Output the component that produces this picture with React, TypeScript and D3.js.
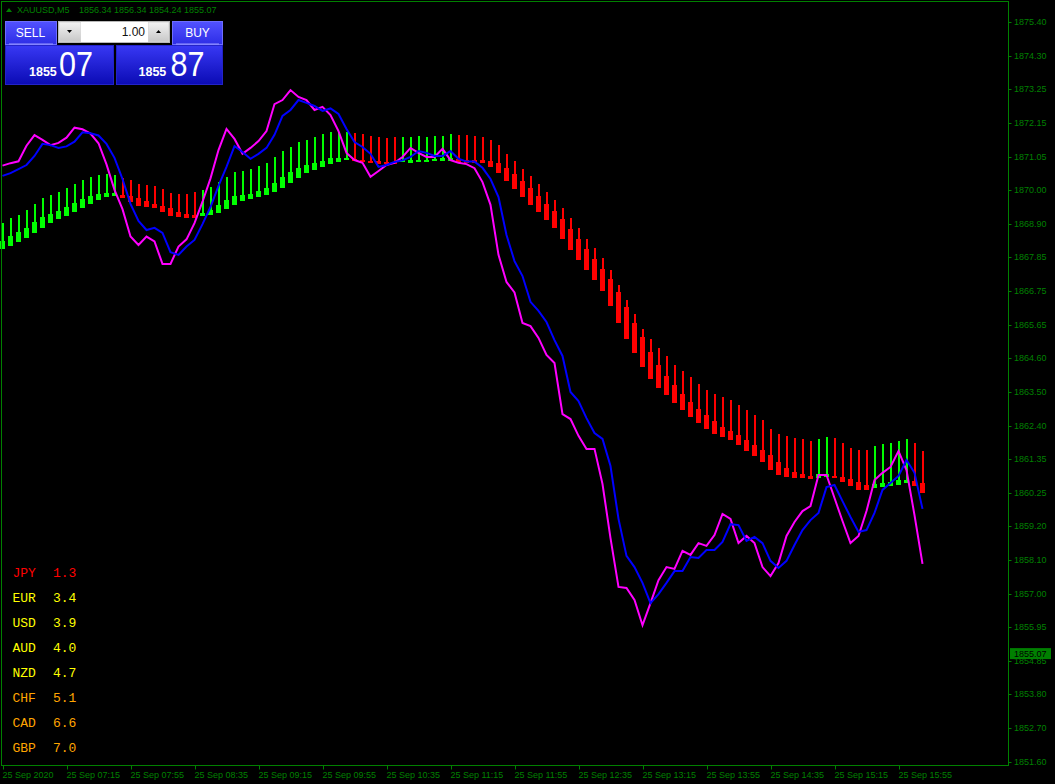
import React from 'react';
import * as d3 from 'd3';

const WIDTH = 1055;
const HEIGHT = 784;

// header / trade panel values
const SYMBOL = 'XAUUSD,M5';
const OHLC = [1856.34, 1856.34, 1854.24, 1855.07];
const LOT = '1.00';
const BID = 1855.07;
const ASK = 1855.87;

// smoothed heiken-ashi ribbon, one entry per M5 bar (06:35 .. 16:10)
// U = green (up), D = red (down)
const BAR_DIR =
  'UUUUU' + 'UUUUU' + 'UUUUU' +
  'DDDDD' + 'DDDDD' +
  'UUUUU' + 'UUUUU' + 'UUUUU' + 'UUUU' +
  'DDDDD' + 'D' +
  'UUUUU' + 'UU' +
  'DDDDD' + 'DDDDD' + 'DDDDD' + 'DDDDD' + 'DDDDD' + 'DDDDD' + 'DDDDD' + 'DDDDD' + 'DDDDD' +
  'UU' +
  'DDDDD' +
  'UUUUU' +
  'DD';

const wickHigh = [
  1868.95, 1869.11, 1869.19, 1869.35, 1869.55, 1869.74, 1869.84, 1869.93, 1870.06, 1870.19,
  1870.32, 1870.41, 1870.48, 1870.51, 1870.48, 1870.39, 1870.32, 1870.19, 1870.16, 1870.13,
  1870.03, 1869.90, 1869.87, 1869.87, 1869.93, 1870.00, 1870.09, 1870.25, 1870.42, 1870.58,
  1870.62, 1870.67, 1870.77, 1870.87, 1871.06, 1871.25, 1871.38, 1871.54, 1871.61, 1871.70,
  1871.80, 1871.86, 1871.86, 1871.86, 1871.83, 1871.80, 1871.73, 1871.70, 1871.67, 1871.70,
  1871.70, 1871.70, 1871.73, 1871.70, 1871.73, 1871.73, 1871.80, 1871.77, 1871.77, 1871.73,
  1871.70, 1871.61, 1871.45, 1871.16, 1870.93, 1870.67, 1870.45, 1870.19, 1869.93, 1869.68,
  1869.42, 1869.10, 1868.78, 1868.42, 1868.13, 1867.81, 1867.42, 1866.94, 1866.46, 1866.01,
  1865.53, 1865.20, 1864.92, 1864.66, 1864.37, 1864.18, 1863.98, 1863.76, 1863.57, 1863.44,
  1863.34, 1863.24, 1863.08, 1862.92, 1862.76, 1862.60, 1862.31, 1862.15, 1862.09, 1862.02,
  1861.99, 1861.92, 1861.99, 1862.05, 1862.02, 1861.86, 1861.70, 1861.64, 1861.64, 1861.76,
  1861.83, 1861.86, 1861.92, 1861.99, 1861.86, 1861.60,
];

const bodyHigh = [
  1868.36, 1868.53, 1868.64, 1868.79, 1868.96, 1869.13, 1869.23, 1869.32, 1869.45, 1869.57,
  1869.71, 1869.80, 1869.87, 1869.90, 1869.89, 1869.83, 1869.80, 1869.75, 1869.65, 1869.55,
  1869.48, 1869.43, 1869.29, 1869.23, 1869.19, 1869.27, 1869.35, 1869.52, 1869.68, 1869.80,
  1869.85, 1869.88, 1869.98, 1870.07, 1870.22, 1870.42, 1870.58, 1870.71, 1870.79, 1870.87,
  1870.93, 1871.03, 1871.03, 1871.03, 1871.00, 1870.96, 1870.93, 1870.93, 1870.91, 1870.91,
  1870.96, 1870.96, 1870.96, 1870.96, 1871.00, 1871.01, 1871.03, 1871.00, 1870.96, 1870.96,
  1870.96, 1870.93, 1870.88, 1870.71, 1870.51, 1870.29, 1870.06, 1869.80, 1869.55, 1869.32,
  1869.06, 1868.74, 1868.42, 1868.10, 1867.78, 1867.46, 1867.13, 1866.72, 1866.23, 1865.72,
  1865.27, 1864.79, 1864.37, 1864.01, 1863.72, 1863.44, 1863.18, 1862.95, 1862.76, 1862.57,
  1862.38, 1862.25, 1862.12, 1861.96, 1861.80, 1861.64, 1861.47, 1861.25, 1861.06, 1860.93,
  1860.86, 1860.80, 1860.86, 1860.86, 1860.80, 1860.77, 1860.70, 1860.61, 1860.51, 1860.54,
  1860.57, 1860.61, 1860.67, 1860.67, 1860.64, 1860.57,
];

const bodyLow = [
  1868.09, 1868.21, 1868.34, 1868.46, 1868.62, 1868.79, 1868.95, 1869.07, 1869.17, 1869.30,
  1869.43, 1869.56, 1869.69, 1869.78, 1869.80, 1869.75, 1869.62, 1869.49, 1869.45, 1869.42,
  1869.30, 1869.16, 1869.13, 1869.11, 1869.11, 1869.17, 1869.20, 1869.27, 1869.38, 1869.53,
  1869.65, 1869.72, 1869.78, 1869.85, 1869.94, 1870.07, 1870.23, 1870.39, 1870.55, 1870.65,
  1870.75, 1870.84, 1870.91, 1870.96, 1870.92, 1870.89, 1870.86, 1870.83, 1870.82, 1870.83,
  1870.90, 1870.88, 1870.90, 1870.90, 1870.92, 1870.92, 1870.94, 1870.90, 1870.88, 1870.87,
  1870.86, 1870.75, 1870.54, 1870.29, 1870.03, 1869.77, 1869.52, 1869.29, 1869.03, 1868.78,
  1868.42, 1868.07, 1867.75, 1867.42, 1867.10, 1866.75, 1866.27, 1865.72, 1865.20, 1864.75,
  1864.30, 1863.92, 1863.63, 1863.40, 1863.15, 1862.92, 1862.70, 1862.50, 1862.31, 1862.15,
  1862.05, 1861.96, 1861.80, 1861.60, 1861.44, 1861.25, 1860.99, 1860.83, 1860.77, 1860.73,
  1860.73, 1860.70, 1860.73, 1860.77, 1860.73, 1860.61, 1860.48, 1860.35, 1860.35, 1860.41,
  1860.45, 1860.48, 1860.51, 1860.57, 1860.48, 1860.25,
];

// fast MA (magenta)
const fastMA = [
  1870.78, 1870.86, 1870.92, 1871.42, 1871.76, 1871.61, 1871.44, 1871.51, 1871.68, 1872.00,
  1871.95, 1871.81, 1871.50, 1870.82, 1870.00, 1869.38, 1868.50, 1868.23, 1868.50, 1868.34,
  1867.62, 1867.62, 1868.18, 1868.41, 1868.93, 1869.62, 1870.37, 1871.28, 1871.96, 1871.64,
  1871.16, 1871.35, 1871.57, 1871.89, 1872.76, 1872.89, 1873.21, 1872.99, 1872.89, 1872.57,
  1872.67, 1872.41, 1871.89, 1871.19, 1870.96, 1870.87, 1870.42, 1870.61, 1870.80, 1870.87,
  1871.06, 1871.35, 1871.19, 1871.06, 1871.06, 1871.32, 1870.96, 1870.87, 1870.83, 1870.70,
  1870.25, 1869.52, 1867.91, 1867.04, 1866.70, 1865.72, 1865.62, 1865.24, 1864.69, 1864.43,
  1862.79, 1862.63, 1862.09, 1861.67, 1861.67, 1860.54, 1858.80, 1857.23, 1857.20, 1856.81,
  1856.00, 1856.71, 1857.45, 1857.87, 1857.81, 1858.39, 1858.26, 1858.64, 1858.55, 1858.90,
  1859.58, 1859.42, 1858.64, 1858.87, 1858.64, 1857.87, 1857.58, 1858.00, 1858.87, 1859.32,
  1859.67, 1859.83, 1860.83, 1860.83, 1860.09, 1859.35, 1858.64, 1858.87, 1859.67, 1860.67,
  1860.90, 1861.09, 1861.60, 1860.99, 1859.54, 1857.97,
];

// slow MA (blue)
const slowMA = [
  1870.45, 1870.54, 1870.67, 1870.80, 1871.09, 1871.48, 1871.44, 1871.35, 1871.40, 1871.55,
  1871.85, 1871.82, 1871.75, 1871.48, 1871.03, 1870.35, 1869.55, 1869.00, 1868.71, 1868.78,
  1868.62, 1868.00, 1867.91, 1868.18, 1868.39, 1868.90, 1869.45, 1870.13, 1870.74, 1871.41,
  1871.22, 1871.00, 1871.16, 1871.35, 1871.77, 1872.38, 1872.57, 1872.89, 1872.80, 1872.70,
  1872.54, 1872.62, 1872.44, 1871.96, 1871.54, 1871.38, 1871.16, 1870.74, 1870.80, 1870.90,
  1870.95, 1871.06, 1871.25, 1871.19, 1871.09, 1871.09, 1871.25, 1871.00, 1870.91, 1870.91,
  1870.71, 1870.35, 1869.77, 1868.55, 1867.71, 1867.23, 1866.40, 1866.11, 1865.75, 1865.17,
  1864.66, 1863.50, 1863.21, 1862.66, 1862.18, 1861.99, 1861.12, 1859.42, 1858.23, 1857.87,
  1857.36, 1856.71, 1857.00, 1857.36, 1857.74, 1857.74, 1858.19, 1858.16, 1858.42, 1858.42,
  1858.68, 1859.25, 1859.22, 1858.71, 1858.84, 1858.64, 1858.07, 1857.84, 1858.07, 1858.58,
  1859.06, 1859.38, 1859.61, 1860.44, 1860.51, 1859.99, 1859.48, 1859.00, 1859.06, 1859.61,
  1860.35, 1860.57, 1860.80, 1861.31, 1860.90, 1859.74,
];

const priceTicks = [
  1875.40, 1874.30, 1873.25, 1872.15, 1871.05, 1870.00, 1868.90, 1867.85, 1866.75, 1865.65,
  1864.60, 1863.50, 1862.40, 1861.35, 1860.25, 1859.20, 1858.10, 1857.00, 1855.95, 1854.85,
  1853.80, 1852.70, 1851.60,
];

// one label every 8 bars
const timeLabels = [
  '25 Sep 2020', '25 Sep 07:15', '25 Sep 07:55', '25 Sep 08:35', '25 Sep 09:15',
  '25 Sep 09:55', '25 Sep 10:35', '25 Sep 11:15', '25 Sep 11:55', '25 Sep 12:35',
  '25 Sep 13:15', '25 Sep 13:55', '25 Sep 14:35', '25 Sep 15:15', '25 Sep 15:55',
];
const BARS_PER_LABEL = 8;

// currency strength meter
const currencies = ['JPY', 'EUR', 'USD', 'AUD', 'NZD', 'CHF', 'CAD', 'GBP'];
const strength = [1.3, 3.4, 3.9, 4.0, 4.7, 5.1, 6.6, 7.0];

const AXIS = '#008000';
const UP = '#00ff00';
const DOWN = '#ff0000';
const FONT = '"Liberation Sans", Arial, sans-serif';

const strengthColor = (v: number) => (v < 2 ? '#ff0000' : v < 5 ? '#ffff00' : '#ffa500');

const splitPrice = (p: number) => {
  const s = p.toFixed(2);
  return [s.slice(0, 4), s.slice(5)];
};

const TradePanel: React.FC = () => {
  const [bidSmall, bidBig] = splitPrice(BID);
  const [askSmall, askBig] = splitPrice(ASK);
  return (
    <g fontFamily={FONT}>
      <defs>
        <linearGradient id="btnGrad" x1="0" y1="0" x2="0" y2="1">
          <stop offset="0" stopColor="#5252ff" />
          <stop offset="1" stopColor="#2d2de6" />
        </linearGradient>
        <linearGradient id="bigGrad" x1="0" y1="0" x2="0" y2="1">
          <stop offset="0" stopColor="#3838f4" />
          <stop offset="1" stopColor="#0b0bb4" />
        </linearGradient>
        <linearGradient id="greyGrad" x1="0" y1="0" x2="0" y2="1">
          <stop offset="0" stopColor="#f2f2f2" />
          <stop offset="1" stopColor="#c8c8c8" />
        </linearGradient>
      </defs>

      {/* sell side */}
      <rect x={5.5} y={21.5} width={51} height={23} fill="url(#btnGrad)" stroke="#6d6dff" />
      <text x={30.5} y={37} fill="#fff" fontSize={12} textAnchor="middle">SELL</text>
      <line x1={9} x2={53} y1={44} y2={44} stroke="#9a9aff" />
      <rect x={5.5} y={45.5} width={108} height={39} fill="url(#bigGrad)" stroke="#2323c8" />
      <text x={29} y={76} fill="#fff" fontSize={12.5} fontWeight="bold">{bidSmall}</text>
      <text x={59} y={76} fill="#fff" fontSize={35} textLength={34} lengthAdjust="spacingAndGlyphs">{bidBig}</text>

      {/* lot size */}
      <rect x={58.5} y={21.5} width={111} height={21} fill="#d6d6d6" stroke="#b8b8b8" />
      <rect x={59.5} y={22.5} width={21} height={19} fill="url(#greyGrad)" />
      <rect x={148.5} y={22.5} width={20} height={19} fill="url(#greyGrad)" />
      <rect x={81} y={22} width={67} height={20} fill="#fff" />
      <path d="M67,30 L72,30 L69.5,33 Z" fill="#000" />
      <path d="M156,33 L161,33 L158.5,30 Z" fill="#000" />
      <text x={145} y={36} fill="#111" fontSize={12} textAnchor="end">{LOT}</text>

      {/* buy side */}
      <rect x={172.5} y={21.5} width={50} height={23} fill="url(#btnGrad)" stroke="#6d6dff" />
      <text x={197.5} y={37} fill="#fff" fontSize={12} textAnchor="middle">BUY</text>
      <line x1={176} x2={219} y1={44} y2={44} stroke="#9a9aff" />
      <rect x={116.5} y={45.5} width={106} height={39} fill="url(#bigGrad)" stroke="#2323c8" />
      <text x={138.5} y={76} fill="#fff" fontSize={12.5} fontWeight="bold">{askSmall}</text>
      <text x={170.5} y={76} fill="#fff" fontSize={35} textLength={34} lengthAdjust="spacingAndGlyphs">{askBig}</text>
    </g>
  );
};

const App: React.FC = () => {
  const n = wickHigh.length;
  const plotLeft = 1.5;
  const plotRight = 1008.5;
  const plotTop = 1.5;
  const plotBottom = 765.5;

  // 8px per bar, first bar centred on the left edge
  const x = d3.scaleLinear().domain([0, n - 1]).range([2.5, 2.5 + 8 * (n - 1)]);
  const y = d3.scaleLinear().domain([1851.6, 1875.4]).range([762, 22]);

  const line = d3.line<number>()
    .x((_, i) => x(i))
    .y((d) => y(d))
    .curve(d3.curveLinear);

  return (
    <div style={{ position: 'fixed', left: 0, top: 0 }}>
      <svg width={WIDTH} height={HEIGHT} style={{ display: 'block', background: '#000' }}>
        <rect width={WIDTH} height={HEIGHT} fill="#000" />

        {/* ribbon bars */}
        <g shapeRendering="crispEdges">
          {wickHigh.map((hi, i) => {
            const c = BAR_DIR[i] === 'U' ? UP : DOWN;
            const cx = x(i);
            const yTop = y(hi);
            const yBodyTop = y(bodyHigh[i]);
            let yBodyBot = y(bodyLow[i]);
            if (yBodyBot - yBodyTop < 2) yBodyBot = yBodyTop + 2;
            return (
              <g key={i}>
                <rect x={cx - 1} y={yTop} width={2} height={yBodyBot - yTop} fill={c} />
                <rect x={cx - 2.5} y={yBodyTop} width={5} height={yBodyBot - yBodyTop} fill={c} />
              </g>
            );
          })}
        </g>

        {/* moving averages */}
        <path d={line(fastMA) || ''} fill="none" stroke="#ff00ff" strokeWidth={2} />
        <path d={line(slowMA) || ''} fill="none" stroke="#0000ff" strokeWidth={2} />

        {/* frame */}
        <rect
          x={plotLeft}
          y={plotTop}
          width={plotRight - plotLeft}
          height={plotBottom - plotTop}
          fill="none"
          stroke={AXIS}
          shapeRendering="crispEdges"
        />

        {/* price axis */}
        <g fontFamily={FONT} fontSize={9} fill={AXIS}>
          {priceTicks.map((p) => (
            <g key={p}>
              <line x1={plotRight} x2={plotRight + 3} y1={Math.round(y(p)) + 0.5} y2={Math.round(y(p)) + 0.5} stroke={AXIS} />
              <text x={1014} y={y(p)} dy="0.35em">{p.toFixed(2)}</text>
            </g>
          ))}
          <rect x={1010} y={y(BID) - 6} width={41} height={11} fill={AXIS} />
          <text x={1014} y={y(BID)} dy="0.35em" fill="#000">{BID.toFixed(2)}</text>
        </g>

        {/* time axis */}
        <g fontFamily={FONT} fontSize={9} fill={AXIS}>
          {timeLabels.map((t, k) => {
            const tx = Math.round(x(k * BARS_PER_LABEL)) + 0.5;
            return (
              <g key={t}>
                <line x1={tx} x2={tx} y1={plotBottom} y2={plotBottom + 4} stroke={AXIS} />
                <text x={tx - 1} y={778}>{t}</text>
              </g>
            );
          })}
        </g>

        {/* header */}
        <path d="M6,12 L12,12 L9,8 Z" fill={AXIS} />
        <text fontFamily={FONT} fontSize={9} fill={AXIS} y={13}>
          <tspan x={17}>{SYMBOL}</tspan>
          {OHLC.map((v, i) => (
            <tspan key={i} x={79 + i * 35}>{v.toFixed(2)}</tspan>
          ))}
        </text>

        <TradePanel />

        {/* currency strength */}
        <g fontFamily={'"Liberation Mono", "Courier New", monospace'} fontSize={13}>
          {currencies.map((c, i) => (
            <g key={c} fill={strengthColor(strength[i])}>
              <text x={12.5} y={577 + i * 25}>{c}</text>
              <text x={53} y={577 + i * 25}>{strength[i].toFixed(1)}</text>
            </g>
          ))}
        </g>
      </svg>
    </div>
  );
};

export default App;
